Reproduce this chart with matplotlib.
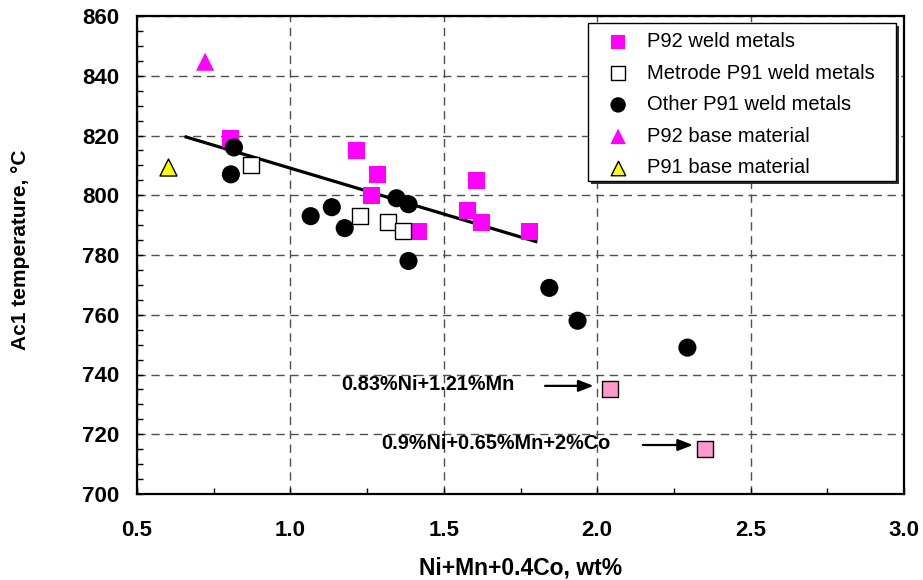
import matplotlib
matplotlib.use("Agg")
import matplotlib.pyplot as plt
from matplotlib.ticker import MultipleLocator, FormatStrFormatter
from matplotlib.patches import Rectangle
from matplotlib import transforms

plt.rcParams['font.family'] = ['Liberation Sans', 'DejaVu Sans']

# ---- data ----
p92_weld_x = [0.805, 1.215, 1.285, 1.265, 1.418, 1.607, 1.577, 1.623, 1.779]
p92_weld_y = [819, 815, 807, 800, 788, 805, 795, 791, 788]

metrode_x = [0.870, 1.226, 1.317, 1.366]
metrode_y = [810, 793, 791, 788]

other_x = [0.816, 0.806, 1.066, 1.135, 1.177, 1.346, 1.385, 1.385, 1.844, 1.936, 2.294]
other_y = [816, 807, 793, 796, 789, 799, 797, 778, 769, 758, 749]

p92_base_x = [0.722]
p92_base_y = [844.7]

p91_base_x = [0.602]
p91_base_y = [809.5]

trend_x = [0.66, 1.80]
trend_y = [819.5, 784.5]

special_x = [2.042, 2.351]
special_y = [735, 715]
special_labels = ["0.83%Ni+1.21%Mn", "0.9%Ni+0.65%Mn+2%Co"]

x_ticks = [0.5, 1.0, 1.5, 2.0, 2.5, 3.0]
y_ticks = [700, 720, 740, 760, 780, 800, 820, 840, 860]

# ---- figure ----
fig = plt.figure(figsize=(9.23, 5.80), dpi=100)
ax = fig.add_axes([137/923, 1-494/580, (904-137)/923, (494-16)/580])

ax.set_xlim(0.5, 3.0)
ax.set_ylim(700, 860)
ax.set_xticks(x_ticks)
ax.set_yticks(y_ticks)
ax.xaxis.set_major_formatter(FormatStrFormatter('%.1f'))
ax.xaxis.set_minor_locator(MultipleLocator(0.25))
ax.yaxis.set_minor_locator(MultipleLocator(5))

ax.grid(True, which='major', color='#505050', linestyle=(0, (6, 4)), linewidth=1.0)
ax.set_axisbelow(True)

for s in ax.spines.values():
    s.set_linewidth(1.6)
    s.set_color('black')

ax.tick_params(which='both', direction='in', width=1.0, color='black')
ax.tick_params(which='major', length=4, labelsize=16)
ax.tick_params(axis='x', which='major', pad=19)
ax.tick_params(axis='y', which='major', pad=13)
ax.tick_params(which='minor', length=4)
for lbl in ax.get_xticklabels() + ax.get_yticklabels():
    lbl.set_fontweight('bold')

# trend line
ax.plot(trend_x, trend_y, color='black', lw=2.3, zorder=3)

ax.scatter(p92_weld_x, p92_weld_y, marker='s', s=150, c='#ff00ff', edgecolors='none',
           zorder=4, label='P92 weld metals')
ax.scatter(metrode_x, metrode_y, marker='s', s=130, facecolors='white', edgecolors='black',
           linewidths=1.0, zorder=5, label='Metrode P91 weld metals')
ax.scatter(other_x, other_y, marker='o', s=170, c='black', edgecolors='none',
           zorder=6, label='Other P91 weld metals')
ax.scatter(p92_base_x, p92_base_y, marker='^', s=170, c='#ff00ff', edgecolors='none',
           zorder=4, label='P92 base material')
ax.scatter(p91_base_x, p91_base_y, marker='^', s=150, c='#ffff00', edgecolors='black',
           linewidths=1.0, zorder=4, label='P91 base material')

ax.scatter(special_x, special_y, marker='s', s=130, c='#ff99cc', edgecolors='black',
           linewidths=1.0, zorder=5)

# annotations
ann_text_x = [1.732, 2.042]
ann_text_y = [736.5, 717.0]
ann_tail_x = [1.830, 2.149]
ann_head_x = [1.988, 2.312]
ann_arrow_y = [736.2, 716.4]
for lbl, tx, ty, x0, x1, ay in zip(special_labels, ann_text_x, ann_text_y,
                                    ann_tail_x, ann_head_x, ann_arrow_y):
    ax.text(tx, ty, lbl, ha='right', va='center', fontsize=14.3, fontweight='bold')
    ax.annotate('', xy=(x1, ay), xytext=(x0, ay),
                arrowprops=dict(arrowstyle='-|>,head_length=0.9,head_width=0.35',
                                color='black', lw=1.6, shrinkA=0, shrinkB=0))

ax.set_xlabel('Ni+Mn+0.4Co, wt%', fontsize=16.5, fontweight='bold', labelpad=11)
ax.set_ylabel('Ac1 temperature, \u00b0C', fontsize=15, fontweight='bold')
ax.yaxis.set_label_coords(-0.139, 0.51)

# legend box drawn manually (frame + shadow)
lx0, ly0, lx1, ly1 = 0.588, 0.655, 0.9896, 0.985
shadow_tr = transforms.offset_copy(ax.transAxes, fig=fig, x=3, y=-3, units='dots')
ax.add_patch(Rectangle((lx0, ly0), lx1 - lx0, ly1 - ly0, transform=shadow_tr,
                       facecolor='#303030', edgecolor='none', zorder=9, clip_on=False))
ax.add_patch(Rectangle((lx0, ly0), lx1 - lx0, ly1 - ly0, transform=ax.transAxes,
                       facecolor='white', edgecolor='black', lw=1.0, zorder=10, clip_on=False))

leg = ax.legend(loc='upper left', bbox_to_anchor=(lx0 + 14/767, ly1 - 3/478), borderaxespad=0,
                fontsize=14.5, frameon=False, handlelength=1.0, handletextpad=0.95,
                labelspacing=0.62, borderpad=0.3, markerscale=0.85, scatterpoints=1)
leg.set_zorder(11)

fig.savefig('out.png', dpi=100)
